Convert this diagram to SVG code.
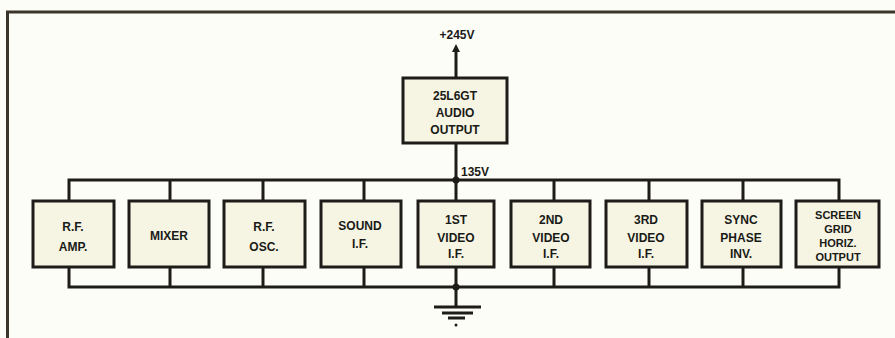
<svg xmlns="http://www.w3.org/2000/svg" width="895" height="338" viewBox="0 0 895 338">
<style>
.ln{stroke:#1e1c18;stroke-width:3;fill:none}
.bx{fill:#f6f5e4;stroke:#1e1c18;stroke-width:3}
.t{font-family:"Liberation Sans",Arial,sans-serif;font-weight:bold;font-size:12px;fill:#1a1a16;text-anchor:middle}
.s{font-size:11px}
</style>
<defs>
<marker id="ah" markerWidth="8" markerHeight="8" refX="4" refY="4" orient="auto" markerUnits="userSpaceOnUse">
<path d="M0,0 L8,4 L0,8 Z" fill="#1e1c18"/>
</marker>
</defs>
<rect width="895" height="338" fill="#fdfdf8"/>
<g id="frame">
<path d="M7.5,338 V12 H895" stroke="#3a362c" stroke-width="3" fill="none"/>
</g>
<g id="connectors">
<path class="ln" d="M456,78 V48" marker-end="url(#ah)"/>
<path class="ln" d="M456,143 V180"/>
<path class="ln" d="M69,201 V180 H839 V201"/>
<path class="ln" d="M170,180 V201 M263,180 V201 M364,180 V201 M456,180 V201 M554,180 V201 M649,180 V201 M743,180 V201"/>
<path class="ln" d="M69,267 V287 H839 V267"/>
<path class="ln" d="M170,267 V287 M263,267 V287 M364,267 V287 M456,267 V287 M554,267 V287 M649,267 V287 M743,267 V287"/>
<path class="ln" d="M456,287 V307"/>
<circle cx="456" cy="180" r="3.5" fill="#1e1c18"/>
<circle cx="456" cy="287" r="3.5" fill="#1e1c18"/>
</g>
<g id="ground">
<path class="ln" d="M434,307 H481 M442,313 H473 M448,318 H465"/>
<circle cx="456" cy="325" r="1.5" fill="#1e1c18"/>
</g>
<g id="supply">
<text class="t" x="457" y="39">+245V</text>
<text class="t" x="475" y="176">135V</text>
</g>
<g id="audio">
<rect class="bx" x="403" y="78" width="104" height="65"/>
<text class="t" x="455" y="100">25L6GT</text>
<text class="t" x="455" y="117">AUDIO</text>
<text class="t" x="455" y="134">OUTPUT</text>
</g>
<g id="rfamp">
<rect class="bx" x="33" y="201" width="81" height="66"/>
<text class="t" x="73" y="231">R.F.</text>
<text class="t" x="73" y="251">AMP.</text>
</g>
<g id="mixer">
<rect class="bx" x="129" y="201" width="80" height="66"/>
<text class="t" x="169" y="240">MIXER</text>
</g>
<g id="rfosc">
<rect class="bx" x="224" y="201" width="81" height="66"/>
<text class="t" x="264" y="231">R.F.</text>
<text class="t" x="264" y="251">OSC.</text>
</g>
<g id="soundif">
<rect class="bx" x="321" y="201" width="80" height="66"/>
<text class="t" x="360" y="230">SOUND</text>
<text class="t" x="360" y="248">I.F.</text>
</g>
<g id="video1">
<rect class="bx" x="418" y="201" width="76" height="66"/>
<text class="t" x="456" y="224">1ST</text>
<text class="t" x="456" y="242">VIDEO</text>
<text class="t" x="456" y="258">I.F.</text>
</g>
<g id="video2">
<rect class="bx" x="511" y="201" width="79" height="66"/>
<text class="t" x="551" y="224">2ND</text>
<text class="t" x="551" y="242">VIDEO</text>
<text class="t" x="551" y="258">I.F.</text>
</g>
<g id="video3">
<rect class="bx" x="606" y="201" width="81" height="66"/>
<text class="t" x="646" y="224">3RD</text>
<text class="t" x="646" y="242">VIDEO</text>
<text class="t" x="646" y="258">I.F.</text>
</g>
<g id="sync">
<rect class="bx" x="702" y="201" width="79" height="66"/>
<text class="t" x="741" y="224">SYNC</text>
<text class="t" x="741" y="242">PHASE</text>
<text class="t" x="741" y="258">INV.</text>
</g>
<g id="screen">
<rect class="bx" x="796" y="201" width="83" height="66"/>
<text class="t s" x="838" y="219">SCREEN</text>
<text class="t s" x="838" y="233">GRID</text>
<text class="t s" x="838" y="247">HORIZ.</text>
<text class="t s" x="838" y="261">OUTPUT</text>
</g>
</svg>
